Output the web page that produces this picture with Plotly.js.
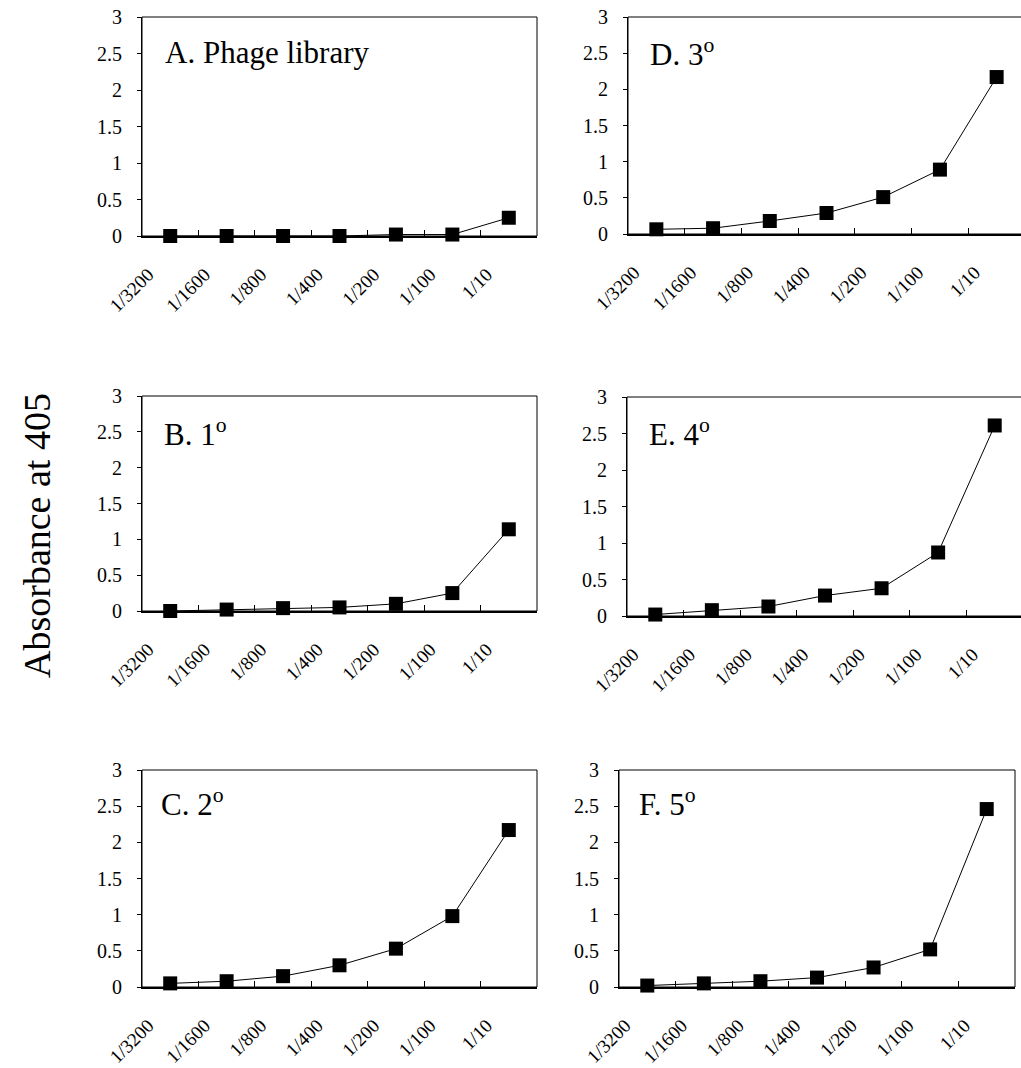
<!DOCTYPE html>
<html>
<head>
<meta charset="utf-8">
<script src="https://cdn.plot.ly/plotly-3.0.1.min.js"></script>
<style>
html, body { margin: 0; padding: 0; overflow: hidden; background: #fff; }
#chart { width: 1026px; height: 1068px; }
</style>
</head>
<body>
<div id="chart"></div>
<script>
// ---- data ----
const dilutions = ["1/3200", "1/1600", "1/800", "1/400", "1/200", "1/100", "1/10"];
const yTicks = [0, 0.5, 1, 1.5, 2, 2.5, 3];
const panelLabels = ["A. Phage library", "B. 1<sup>o</sup>", "C. 2<sup>o</sup>", "D. 3<sup>o</sup>", "E. 4<sup>o</sup>", "F. 5<sup>o</sup>"];
const phageLibrary = [0, 0, 0, 0, 0.02, 0.02, 0.25];
const round1 = [0, 0.02, 0.04, 0.05, 0.1, 0.25, 1.14];
const round2 = [0.05, 0.08, 0.15, 0.30, 0.53, 0.98, 2.17];
const round3 = [0.065, 0.08, 0.18, 0.29, 0.51, 0.89, 2.17];
const round4 = [0.02, 0.08, 0.13, 0.28, 0.38, 0.87, 2.61];
const round5 = [0.02, 0.05, 0.08, 0.13, 0.27, 0.52, 2.46];
const yTitle = "Absorbance at 405";

// ---- layout helpers (pixel boxes) ----
const W = 1026, H = 1068;
const px = x => x / W;
const py = y => 1 - y / H;
const series = [phageLibrary, round1, round2, round3, round4, round5];
// [left, right, top, bottom, labelX, labelY]
const boxes = [
  [142, 537, 17, 236, 163, 52],
  [142, 537, 396, 611, 162, 432],
  [142, 537, 770, 987, 159, 802],
  [628, 1025, 17, 234, 648, 52],
  [627, 1023, 397, 616, 647, 432],
  [619, 1015, 770, 987, 637, 802]
];

const font = "'Liberation Serif', 'Times New Roman', Times, serif";
const data = [];
const layout = {
  width: W, height: H,
  margin: {l: 0, r: 0, t: 0, b: 0},
  paper_bgcolor: "#fff", plot_bgcolor: "#fff",
  showlegend: false,
  font: {family: font, color: "#000"},
  shapes: [], annotations: []
};

series.forEach((vals, i) => {
  const n = i + 1;
  const xa = n === 1 ? "xaxis" : "xaxis" + n;
  const ya = n === 1 ? "yaxis" : "yaxis" + n;
  const xr = n === 1 ? "x" : "x" + n;
  const yr = n === 1 ? "y" : "y" + n;
  const b = boxes[i];
  data.push({
    type: "scatter", mode: "lines+markers",
    x: dilutions, y: vals, xaxis: xr, yaxis: yr,
    line: {color: "#000", width: 1},
    marker: {symbol: "square", size: 14, color: "#000"},
    cliponaxis: false
  });
  layout[xa] = {
    domain: [px(b[0]), px(b[1])], anchor: yr,
    type: "category", categoryorder: "array", categoryarray: dilutions,
    range: [-0.5, 6.5], fixedrange: true,
    showgrid: false, zeroline: false,
    showline: true, linecolor: "#000", linewidth: 2,
    ticks: "inside", tickson: "boundaries", ticklen: 6, tickwidth: 1, tickcolor: "#000",
    tickangle: -45, tickfont: {family: font, size: 19, color: "#000"},
    ticklabelstandoff: 18, ticklabelshift: -22
  };
  layout[ya] = {
    domain: [py(b[3]), py(b[2])], anchor: xr,
    range: [0, 3], tickvals: yTicks, ticktext: yTicks.map(String), fixedrange: true,
    showgrid: false, zeroline: false,
    showline: true, linecolor: "#000", linewidth: 1,
    ticks: "outside", ticklen: 4, tickwidth: 1, tickcolor: "#000",
    tickfont: {family: font, size: 20, color: "#000"},
    ticklabelstandoff: 11
  };
  layout.shapes.push({
    type: "rect", xref: xr + " domain", yref: yr + " domain",
    x0: 0, x1: 1, y0: 0, y1: 1, layer: "below",
    line: {color: "#000", width: 1}
  });
  layout.annotations.push({
    text: panelLabels[i], xref: "paper", yref: "paper",
    x: px(b[4]), y: py(b[5]), xanchor: "left", yanchor: "middle",
    showarrow: false, font: {family: font, size: 31, color: "#000"}
  });
});

layout.annotations.push({
  text: yTitle, xref: "paper", yref: "paper",
  x: px(37), y: py(536), xanchor: "center", yanchor: "middle",
  textangle: -90, showarrow: false,
  font: {family: font, size: 38, color: "#000"}
});

Plotly.newPlot("chart", data, layout, {staticPlot: true, displayModeBar: false});
</script>
</body>
</html>
